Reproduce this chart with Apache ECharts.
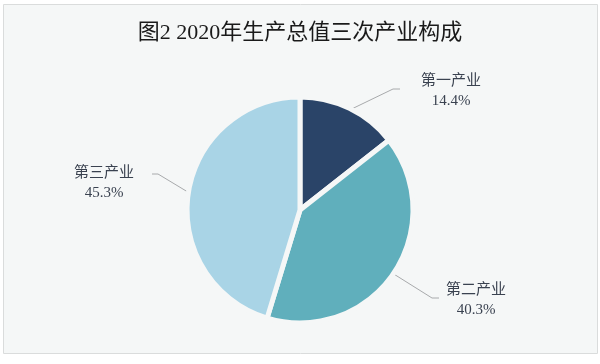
<!DOCTYPE html>
<html>
<head>
<meta charset="utf-8">
<script src="https://cdn.jsdelivr.net/npm/echarts@6/dist/echarts.min.js"></script>
<style>
html,body{margin:0;padding:0;background:#ffffff;}
#main{width:600px;height:364px;}
</style>
</head>
<body>
<div id="main"></div>
<script>
const titleText = '图2 2020年生产总值三次产业构成';
const categories = ['第一产业', '第二产业', '第三产业'];
const values = [14.4, 40.3, 45.3];
const colors = ['#2a4468', '#60afbc', '#a9d4e6'];

// layout (positions only)
const CX = 300, CY = 210, R = 113;
const labelPos = [[451, 91], [476, 300], [104, 183]];
const lineBend = [[[393, 89], [400, 89]], [[432, 298], [439, 298]], [[158, 174], [152, 174]]];

const FONT = "'Liberation Serif', 'Noto Sans CJK SC', serif";
const BG = '#f5f7f7';

const chart = echarts.init(document.getElementById('main'), null, {renderer: 'canvas'});

const total = values.reduce((a, b) => a + b, 0);
function midAngle(i) {
  let before = 0;
  for (let k = 0; k < i; k++) before += values[k];
  const mid = before + values[i] / 2;
  return (90 - mid / total * 360) * Math.PI / 180;
}

chart.setOption({
  backgroundColor: '#ffffff',
  animation: false,
  graphic: [{
    type: 'rect',
    z: -10,
    shape: {x: 3.5, y: 4.5, width: 594, height: 349},
    style: {fill: BG, stroke: '#dadcdc', lineWidth: 1}
  }],
  title: {
    text: titleText,
    left: 'center',
    top: 17,
    textStyle: {fontFamily: FONT, fontSize: 22, fontWeight: 'normal', color: '#1a1a1a'}
  },
  series: [{
    type: 'pie',
    center: [CX, CY],
    radius: [0, R],
    startAngle: 90,
    clockwise: true,
    avoidLabelOverlap: false,
    data: categories.map((c, i) => ({name: c, value: values[i], itemStyle: {color: colors[i]}})),
    itemStyle: {
      borderColor: BG,
      borderWidth: 5
    },
    label: {
      show: true,
      position: 'outside',
      formatter: '{b}\n{c}%',
      fontFamily: FONT,
      fontSize: 15,
      lineHeight: 20,
      color: '#3a4250',
      align: 'center'
    },
    labelLine: {
      show: true,
      lineStyle: {color: '#a8aaac', width: 1}
    },
    labelLayout: function (params) {
      const i = params.dataIndex;
      const a = midAngle(i);
      const r = R - 2.5;
      const sx = CX + r * Math.cos(a);
      const sy = CY - r * Math.sin(a);
      return {
        x: labelPos[i][0],
        y: labelPos[i][1],
        align: 'center',
        verticalAlign: 'middle',
        labelLinePoints: [[sx, sy], lineBend[i][0], lineBend[i][1]]
      };
    },
    emphasis: {disabled: true}
  }]
});
</script>
</body>
</html>
